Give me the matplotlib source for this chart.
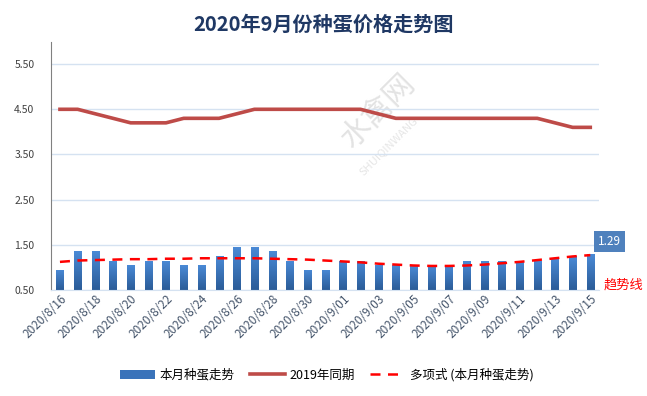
import numpy as np
import matplotlib.pyplot as plt
from matplotlib.colors import LinearSegmentedColormap

plt.rcParams['font.family'] = ['Noto Sans CJK SC', 'DejaVu Sans']

# 2020/8/16 .. 2020/9/15
dates = ["2020/8/%d" % d for d in range(16, 32)] + ["2020/9/%02d" % d for d in range(1, 16)]
price_2020 = [0.95, 1.35, 1.35, 1.15, 1.05, 1.15, 1.15, 1.05, 1.05, 1.25,
              1.45, 1.45, 1.35, 1.15, 0.95, 0.95, 1.15, 1.15, 1.05, 1.05,
              1.05, 1.05, 1.05, 1.15, 1.15, 1.15, 1.15, 1.15, 1.20, 1.25, 1.29]
price_2019 = [4.5, 4.5, 4.4, 4.3, 4.2, 4.2, 4.2, 4.3, 4.3, 4.3,
              4.4, 4.5, 4.5, 4.5, 4.5, 4.5, 4.5, 4.5, 4.4, 4.3,
              4.3, 4.3, 4.3, 4.3, 4.3, 4.3, 4.3, 4.3, 4.2, 4.1, 4.1]
trend = [1.12, 1.15, 1.16, 1.17, 1.18, 1.18, 1.19, 1.19, 1.2, 1.2,
         1.2, 1.2, 1.19, 1.18, 1.17, 1.15, 1.13, 1.11, 1.08, 1.06,
         1.04, 1.03, 1.03, 1.04, 1.06, 1.09, 1.12, 1.16, 1.2, 1.24, 1.27]
yticks = [0.5, 1.5, 2.5, 3.5, 4.5, 5.5]

x = np.arange(len(dates))

fig = plt.figure(figsize=(6.47, 3.96), dpi=100)
ax = fig.add_axes([0.079, 0.268, 0.847, 0.627])

bars = ax.bar(x, np.array(price_2020) - 0.5, bottom=0.5, width=0.4,
              color="#3a73ba", label="本月种蛋走势", zorder=2)

# vertical gradient on each bar
cmap = LinearSegmentedColormap.from_list("bl", ["#2b5c98", "#4a8ad6"])
grad = np.linspace(0, 1, 64).reshape(-1, 1)
for b in bars:
    x0, y0 = b.get_x(), b.get_y()
    im = ax.imshow(grad, cmap=cmap, origin="lower", aspect="auto",
                   extent=(x0, x0 + b.get_width(), y0, y0 + b.get_height()), zorder=2)
    im.set_clip_path(b)

line19, = ax.plot(x, price_2019, color="#be4b48", lw=2.6, label="2019年同期", zorder=3)
line_tr, = ax.plot(x, trend, color="#ff0000", lw=1.8, ls=(0, (4, 3)),
                   label="多项式 (本月种蛋走势)", zorder=4)

ax.set_xlim(-0.5, len(dates) - 0.5)
ax.set_ylim(0.5, 6.0)
ax.set_yticks(yticks)
ax.set_yticklabels(["%.2f" % v for v in yticks], fontsize=7.5, color="#404040")
ax.yaxis.grid(True, color="#d5e2f1", lw=1)
ax.set_axisbelow(True)
ax.tick_params(axis="both", length=0)
ax.tick_params(axis="y", pad=12)
ax.tick_params(axis="x", pad=2)

ax.set_xticks(x[::2])
ax.set_xticklabels(dates[::2], rotation=45, ha="right", va="top",
                   rotation_mode="anchor", fontsize=8.5, color="#44546a")
for lbl in ax.get_xticklabels():
    lbl.set_x(lbl.get_position()[0])
for s in ["top", "right"]:
    ax.spines[s].set_visible(False)
ax.spines["left"].set_color("#808080")
ax.spines["bottom"].set_color("#d5e2f1")
ax.set_facecolor("none")

ax.annotate("%.2f" % price_2020[-1], xy=(x[-1], price_2020[-1]),
            xytext=(14, 9), textcoords="offset points", ha="center", va="center",
            color="white", fontsize=8.5,
            bbox=dict(boxstyle="square,pad=0.35", fc="#4f81bd", ec="none"))

# watermark
fig.text(0.585, 0.72, "水禽网", rotation=45, fontsize=22, color="#e3e3e3",
         ha="center", va="center", zorder=-1)
fig.text(0.6, 0.63, "SHUIQINWANG", rotation=45, fontsize=8, color="#e6e6e6",
         ha="center", va="center", zorder=-1)

fig.text(0.5, 0.94, "2020年9月份种蛋价格走势图", ha="center", va="center",
         fontsize=14.5, fontweight="bold", color="#1f3864")
fig.text(0.963, 0.28, "趋势线", ha="center", va="center", fontsize=9.5, color="#ff0000")

fig.legend(handles=[bars, line19, line_tr], loc="center", bbox_to_anchor=(0.505, 0.053),
           ncol=3, frameon=False, fontsize=9, handlelength=2.8, columnspacing=1.2,
           handletextpad=0.4)

plt.savefig("out.png", dpi=100)
